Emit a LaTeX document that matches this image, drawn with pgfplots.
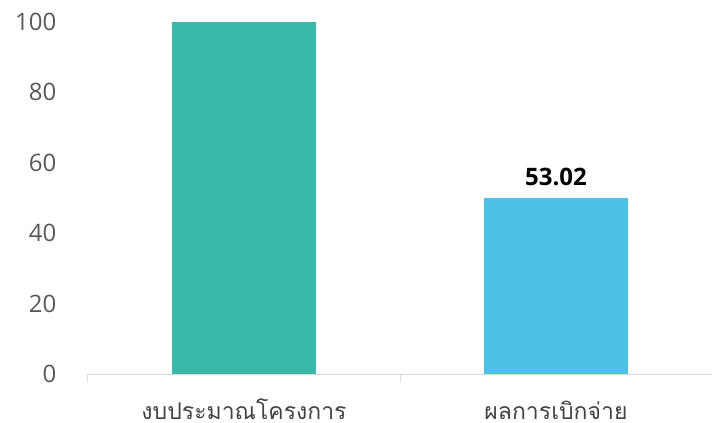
\documentclass[border=0pt]{standalone}
\usepackage{fontspec}
\setmainfont{Open Sans}
\newfontfamily\thaifont[Script=Thai]{Loma}
\usepackage{pgfplots}
\pgfplotsset{compat=1.18}
\definecolor{barteal}{HTML}{3AB8AA}
\definecolor{barblue}{HTML}{4FC1E8}
\definecolor{ticktext}{HTML}{595959}
\definecolor{axisgray}{HTML}{D9D9D9}

\begin{document}
\begin{tikzpicture}
\begin{axis}[
  name=ax,
  scale only axis,
  width=624bp, height=352bp,
  xmin=-0.5, xmax=1.5,
  ymin=0, ymax=100,
  ytick={0,20,...,100},
  xtick={0,1},
  xticklabels={งบประมาณโครงการ, ผลการเบิกจ่าย},
  minor xtick={-0.5,0.5,1.5},
  axis x line*=bottom,
  axis y line*=left,
  y axis line style={draw=none},
  ytick style={draw=none},
  x axis line style={axisgray, line width=1bp},
  major x tick style={draw=none},
  minor x tick style={axisgray, line width=1bp},
  minor tick length=8bp,
  tick align=outside,
  /pgf/number format/assume math mode=true,
  yticklabel style={font=\fontsize{24bp}{28bp}\selectfont, text=ticktext, xshift=-24bp},
  xticklabel style={font=\thaifont\fontsize{23bp}{27bp}\selectfont, text=ticktext!75!black,
    inner sep=0pt, anchor=base, yshift=-41bp},
  clip=false,
]
\addplot[ybar, bar width=144bp, bar shift=0pt, fill=barteal, draw=none]
  coordinates {(0,100)};
\addplot[ybar, bar width=144bp, bar shift=0pt, fill=barblue, draw=none,
  point meta=explicit symbolic,
  nodes near coords,
  nodes near coords style={font=\fontsize{24bp}{28bp}\selectfont\bfseries, text=black,
    inner sep=0pt, anchor=base, yshift=12bp}]
  coordinates {(1,50) [53.02]};
\end{axis}
\pgfresetboundingbox
\path ([xshift=-88bp,yshift=-49bp]ax.south west) rectangle ([yshift=22bp]ax.north east);
\end{tikzpicture}
\end{document}
